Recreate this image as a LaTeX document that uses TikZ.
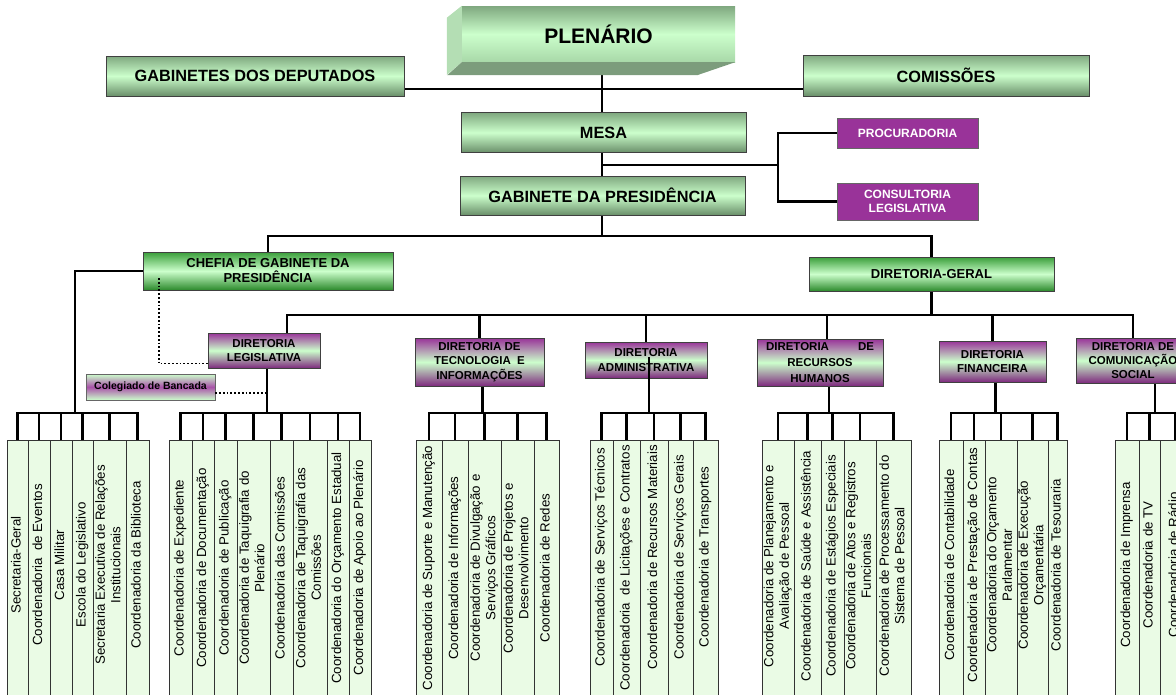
\documentclass[tikz,border=0pt]{standalone}
\usepackage{fontspec}
\setmainfont{Liberation Sans}
\usepackage{graphicx}
\usetikzlibrary{backgrounds}

\definecolor{hdtop}{HTML}{7FA87F}
\definecolor{hdmid}{HTML}{CCFFCC}
\definecolor{hdbot}{HTML}{6A8F6A}
\definecolor{dgtop}{HTML}{3A9E3A}
\definecolor{dgbot}{HTML}{2C8A2C}
\definecolor{purp}{HTML}{993399}
\definecolor{purpdk}{HTML}{7E2A7E}
\definecolor{vfill}{HTML}{EAFBE5}
\definecolor{plenface}{HTML}{A8D8A8}
\definecolor{plenside}{HTML}{B4DEB4}
\definecolor{plenbase}{HTML}{7C9C7C}

\newcommand{\vtxt}[2][0pt]{\rotatebox{90}{\begin{tabular}{@{}c@{}}#2\end{tabular}\hspace*{-#1}}}

\tikzset{
	conn/.style={line width=2.8pt, line cap=rect},
	dotline/.style={line width=1.8pt, dotted},
	hbox/.style={draw=black!75, line width=0.8pt, top color=hdtop, bottom color=hdbot, middle color=hdmid, inner sep=0pt, align=center, font=\bfseries\fontsize{16.3}{19}\selectfont},
	dgbox/.style={hbox, top color=dgtop, bottom color=dgbot, middle color=hdmid, font=\bfseries\fontsize{13}{15}\selectfont},
	dirbox/.style={hbox, top color=purp, bottom color=purpdk, middle color=hdmid, font=\bfseries\fontsize{11.5}{14.2}\selectfont},
	purpbox/.style={draw=black!60, fill=purp, text=white, inner sep=0pt, align=center, font=\bfseries\fontsize{12}{14.7}\selectfont},
	colbox/.style={draw=black!60, top color=hdmid, bottom color=hdmid, middle color=purp!85, inner sep=0pt, font=\bfseries\fontsize{10.5}{12}\selectfont},
	vbox/.style={draw=black!80, fill=vfill, line width=0.8pt, minimum height=256pt, inner sep=0pt, font=\fontsize{13.3}{15.5}\selectfont}
}

\begin{document}
\begin{tikzpicture}[x=1pt, y=-1pt]
	\useasboundingbox (0,0) rectangle (1176,694);
	\clip (0,0) rectangle (1176,694);

	\node[top color=hdtop, bottom color=plenface, middle color=hdmid, minimum width=273pt, minimum height=56pt, inner sep=0pt, font=\bfseries\fontsize{21}{24}\selectfont] (plen) at (598.5,34) {PLENÁRIO};
	\fill[plenside] (plen.north west) -- ++(-15,12) -- ++(0,57) -- (plen.south west) -- cycle;
	\fill[plenbase] (plen.south west) -- (plen.south east) -- ++(-38,13) -- ++(-250,0) -- cycle;

	\node[hbox, minimum width=298pt, minimum height=40pt] (gdep) at (255,76) {GABINETES DOS DEPUTADOS};
	\node[hbox, minimum width=286pt, minimum height=41pt] (comis) at (946,75.5) {COMISSÕES};
	\node[hbox, minimum width=285pt, minimum height=40pt] (mesa) at (603.5,132.5) {MESA};
	\node[hbox, minimum width=285pt, minimum height=39pt] (gpres) at (602.5,195.5) {GABINETE DA PRESIDÊNCIA};
	\node[purpbox, minimum width=141pt, minimum height=30pt] (proc) at (907.5,133) {PROCURADORIA};
	\node[purpbox, minimum width=141pt, minimum height=37pt] (cons) at (907.5,201.5) {CONSULTORIA\\LEGISLATIVA};

	\node[dgbox, minimum width=250pt, minimum height=38pt] (chefia) at (268,271) {CHEFIA DE GABINETE DA\\PRESIDÊNCIA};
	\node[dgbox, minimum width=245pt, minimum height=34pt] (dger) at (931.5,274) {DIRETORIA-GERAL};

	\node[dirbox, minimum width=112pt, minimum height=35pt] (dleg) at (264,350.5) {DIRETORIA\\LEGISLATIVA};
	\node[dirbox, minimum width=129pt, minimum height=48pt] (dtec) at (479.5,362) {DIRETORIA DE\\TECNOLOGIA~ E\\INFORMAÇÕES};
	\node[dirbox, minimum width=122pt, minimum height=36pt] (dadm) at (646,360) {DIRETORIA\\ADMINISTRATIVA};
	\node[dirbox, minimum width=126pt, minimum height=47pt, font=\bfseries\fontsize{11.5}{16}\selectfont] (drh) at (820,362.5) {\makebox[108pt]{DIRETORIA\hfill DE}\\RECURSOS\\HUMANOS};
	\node[dirbox, minimum width=107pt, minimum height=41pt] (dfin) at (992.5,361.5) {DIRETORIA\\FINANCEIRA};
	\node[dirbox, minimum width=114pt, minimum height=45pt] (dcom) at (1133,360.5) {DIRETORIA DE\\COMUNICAÇÃO\\SOCIAL};
	\node[colbox, minimum width=129pt, minimum height=26pt] (colg) at (150.5,387) {Colegiado de Bancada};

	\foreach \x/\w/\t [count=\i] in {17.5/21/{Secretaria-Geral}, 39/22/{Coordenadoria~ de Eventos}, 61/22/{Casa Militar}, 82.5/21/{Escola do Legislativo}, 109.5/33/{Secretaria Executiva de Relações\\Institucionais}, 137.5/23/{Coordenadoria da Biblioteca}}
		\node[vbox, minimum width=\w pt] (ga\i) at (\x,568) {\vtxt[6pt]{\t}};
	\foreach \x/\w/\t [count=\i] in {180.5/23/{Coordenadoria de Expediente}, 203/22/{Coordenadoria de Documentação}, 225.5/23/{Coordenadoria de Publicação}, 253.5/33/{Coordenadoria de Taquigrafia do\\Plenário}, 281.5/23/{Coordenadoria das Comissões}, 310/34/{Coordenadoria de Taquigrafia das\\Comissões}, 338/22/{Coordenadoria do Orçamento Estadual}, 360/22/{Coordenadoria de Apoio ao Plenário}}
		\node[vbox, minimum width=\w pt] (gb\i) at (\x,568) {\vtxt{\t}};
	\foreach \x/\w/\t [count=\i] in {429/26/{Coordenadoria de Suporte e Manutenção}, 455/26/{Coordenadoria de Informações}, 484.5/33/{Coordenadoria de Divulgação e\\Serviços Gráficos}, 517.5/33/{Coordenadoria de Projetos e\\Desenvolvimento}, 546.5/25/{Coordenadoria de Redes}}
		\node[vbox, minimum width=\w pt] (gc\i) at (\x,568) {\vtxt{\t}};
	\foreach \x/\w/\s/\t [count=\i] in {601.5/23/22pt/{Coordenadoria de Serviços Técnicos}, 626.5/27/0pt/{Coordenadoria~ de Licitações e Contratos}, 654/28/22pt/{Coordenadoria de Recursos Materiais}, 680.5/25/22pt/{Coordenadoria de Serviços Gerais}, 705.5/25/22pt/{Coordenadoria de Transportes}}
		\node[vbox, minimum width=\w pt] (gd\i) at (\x,568) {\vtxt[\s]{\t}};
	\foreach \x/\w/\t [count=\i] in {778/32/{Coordenadoria de Planejamento e\\Avaliação de Pessoal}, 807.5/27/{Coordenadoria de Saúde e Assistência}, 832.5/23/{Coordenadoria de Estágios Especiais}, 860/32/{Coordenadoria de Atos e Registros\\Funcionais}, 893.5/35/{Coordenadoria de Processamento do\\Sistema de Pessoal}}
		\node[vbox, minimum width=\w pt] (ge\i) at (\x,568) {\vtxt[4pt]{\t}};
	\foreach \x/\w/\t [count=\i] in {951/24/{Coordenadoria de Contabilidade}, 974/22/{Coordenadoria de Prestação de Contas}, 1001/32/{Coordenadoria do Orçamento\\Parlamentar}, 1032.5/31/{Coordenadoria de Execução\\Orçamentária}, 1057.5/19/{Coordenadoria de Tesouraria}}
		\node[vbox, minimum width=\w pt] (gf\i) at (\x,568) {\vtxt[6pt]{\t}};
	\foreach \x/\w/\t [count=\i] in {1127/24/{Coordenadoria de Imprensa}, 1149.5/21/{Coordenadoria de TV}, 1175/30/{Coordenadoria de Rádio}}
		\node[vbox, minimum width=\w pt] (gg\i) at (\x,568) {\vtxt[6pt]{\t}};

	\begin{scope}[on background layer]
		\coordinate (spine) at (602,0);
		\coordinate (br) at (778,165);
		\coordinate (tbar) at (602,236);
		\coordinate (dbar) at (0,315);
		\coordinate (lbar) at (0,413);
		\coordinate (cdrop) at (75,413);
		\draw[conn] (gdep.east) ++(0,13) coordinate (gl) -- (gl -| comis.west);
		\draw[conn] (spine |- plen.south) -- (spine |- gpres.north);
		\draw[conn] (spine |- br) -- (br);
		\draw[conn] (proc.west) -| (br) |- (cons.west);
		\draw[conn] (spine |- gpres.south) -- (tbar);
		\draw[conn] (chefia.north) |- (tbar) -| (dger.north);
		\draw[conn] (chefia.west) -| (cdrop);
		\draw[conn] (dger.south) -- (dger.south |- dbar);
		\draw[conn] (dleg.north) ++(23,0) |- (dcom.north |- dbar) -- (dcom.north);
		\foreach \n in {dtec,dadm,dfin}
			\draw[conn] (\n.north) -- (\n.north |- dbar);
		\draw[conn] (drh.north) ++(7,0) coordinate (rt) -- (rt |- dbar);
		\draw[conn] (dleg.south) ++(3,0) coordinate (ls) -- (ls |- lbar);
		\draw[conn] (dtec.south) ++(3,0) coordinate (ts) -- (ts |- lbar);
		\draw[conn] (drh.south) ++(9,0) coordinate (rs) -- (rs |- lbar);
		\draw[conn] (dfin.south) ++(3,0) coordinate (fs) -- (fs |- lbar);
		\draw[conn] (dcom.south) ++(22,0) coordinate (cs) -- (cs |- lbar);
		\draw[conn] (ga1.north |- lbar) -- (ga6.north |- lbar);
		\draw[conn] (gb1.north |- lbar) -- (gb8.north |- lbar);
		\draw[conn] (gc1.north |- lbar) -- (gc5.north |- lbar);
		\draw[conn] (gd1.north |- lbar) -- (gd5.north |- lbar);
		\draw[conn] (ge1.north |- lbar) -- (ge5.north |- lbar);
		\draw[conn] (gf1.north |- lbar) -- (gf5.north |- lbar);
		\draw[conn] (gg1.north |- lbar) -- (gg3.north |- lbar);
		\foreach \i in {1,...,6} \draw[conn] (ga\i.north) -- (ga\i.north |- lbar);
		\foreach \i in {1,...,8} \draw[conn] (gb\i.north) -- (gb\i.north |- lbar);
		\foreach \g in {gc,gd,ge,gf}
			\foreach \i in {1,...,5} \draw[conn] (\g\i.north) -- (\g\i.north |- lbar);
		\foreach \i in {1,...,3} \draw[conn] (gg\i.north) -- (gg\i.north |- lbar);
	\end{scope}

	\draw[conn] (dadm.center) ++(3,-2) coordinate (as) -- (as |- lbar);
	\draw[dotline] (chefia.west) ++(16,7) |- ([yshift=5pt]dleg.south west);
	\draw[dotline] (colg.east) ++(0,6) coordinate (cd) -- (cd -| ls);
\end{tikzpicture}
\end{document}
